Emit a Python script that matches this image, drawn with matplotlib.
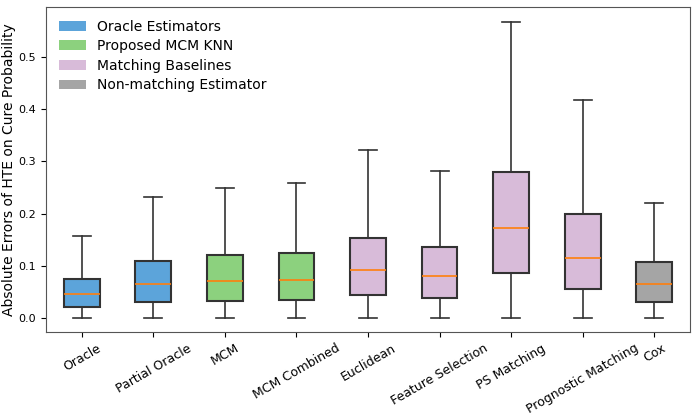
import matplotlib.pyplot as plt
from matplotlib.patches import Patch

methods = ["Oracle", "Partial Oracle", "MCM", "MCM Combined", "Euclidean",
           "Feature Selection", "PS Matching", "Prognostic Matching", "Cox"]
whislo = [0.0, 0.0, 0.0, 0.0, 0.0, 0.0, 0.0, 0.0, 0.0]
q1 = [0.021, 0.031, 0.033, 0.035, 0.043, 0.038, 0.086, 0.055, 0.031]
med = [0.045, 0.065, 0.070, 0.072, 0.091, 0.080, 0.172, 0.115, 0.065]
q3 = [0.075, 0.110, 0.120, 0.124, 0.154, 0.135, 0.279, 0.200, 0.107]
whishi = [0.157, 0.232, 0.250, 0.259, 0.321, 0.282, 0.568, 0.418, 0.220]
groups = [0, 0, 1, 1, 2, 2, 2, 2, 3]

group_names = ["Oracle Estimators", "Proposed MCM KNN", "Matching Baselines", "Non-matching Estimator"]
group_colors = ["#5ca4da", "#8cd17e", "#d8bbd9", "#a5a5a5"]

stats = []
for i, m in enumerate(methods):
    stats.append({"label": m, "whislo": whislo[i], "q1": q1[i], "med": med[i],
                  "q3": q3[i], "whishi": whishi[i], "fliers": []})

fig = plt.figure(figsize=(6.97, 4.16), dpi=100)
ax = fig.add_axes([0.066, 0.202, 0.924, 0.781])

bp = ax.bxp(stats, patch_artist=True, widths=0.5,
            boxprops=dict(edgecolor="#333333", linewidth=1.5),
            whiskerprops=dict(color="#333333", linewidth=1.2),
            capprops=dict(color="#333333", linewidth=1.2),
            medianprops=dict(color="#ff7f0e", linewidth=1.2))
for patch, g in zip(bp["boxes"], groups):
    patch.set_facecolor(group_colors[g])

ax.set_xlim(0.5, 9.5)
ax.set_ylim(-0.027, 0.596)
ax.set_yticks([0.0, 0.1, 0.2, 0.3, 0.4, 0.5])
ax.tick_params(axis="y", labelsize=8)
ax.tick_params(axis="x", labelsize=9)
plt.setp(ax.get_xticklabels(), rotation=30)
ax.set_ylabel("Absolute Errors of HTE on Cure Probability", fontsize=10, labelpad=2)
for s in ax.spines.values():
    s.set_color("#555555")

handles = [Patch(facecolor=c, label=n) for c, n in zip(group_colors, group_names)]
ax.legend(handles=handles, loc="upper left", frameon=False, fontsize=10,
          labelspacing=0.4, bbox_to_anchor=(0.0, 1.0))

fig.savefig("out.png", dpi=100)
